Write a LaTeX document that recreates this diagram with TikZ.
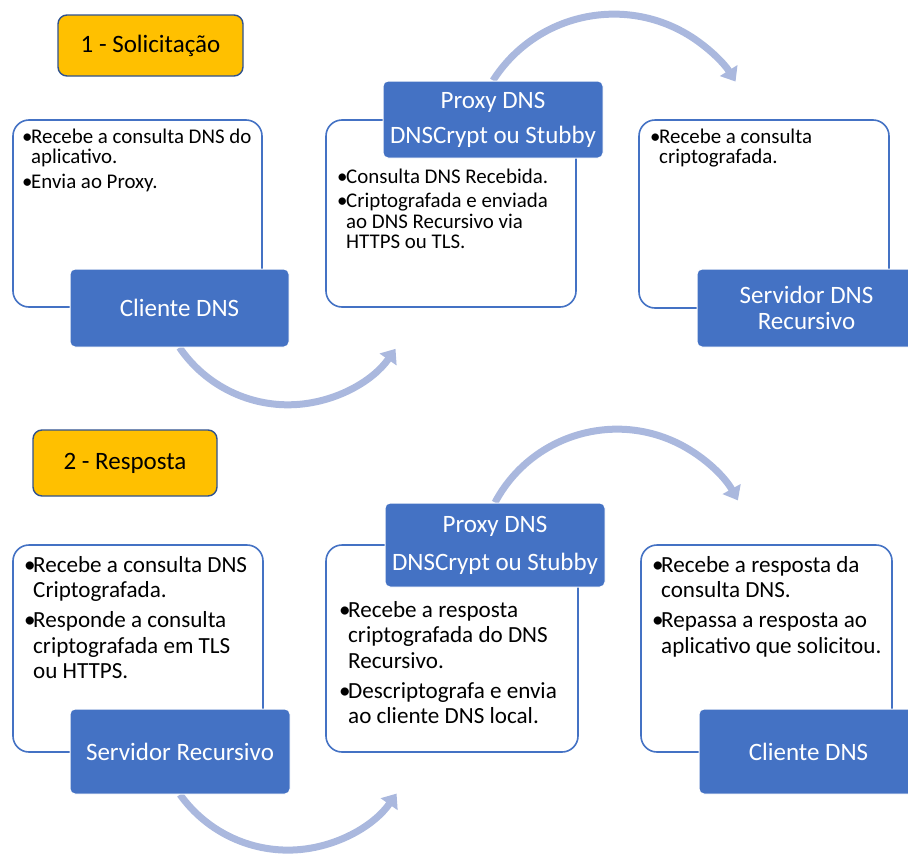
\documentclass[tikz,border=0pt]{standalone}
\usepackage{fontspec}
\setmainfont{Carlito}
\usetikzlibrary{arrows.meta}
\definecolor{mblue}{HTML}{4472C4}
\definecolor{myellow}{HTML}{FFC000}
\definecolor{mdark}{HTML}{2F528F}
\definecolor{marrow}{HTML}{AAB8DE}
\pgfdeclarelayer{bg}
\pgfsetlayers{bg,main}
\newcommand{\bitem}[1]{\noindent\hangindent=9pt\hangafter=1\makebox[9pt][l]{\textbullet}#1\par}
\tikzset{
  wbox/.style={draw=mblue, line width=1.6pt, rounded corners=16pt, fill=white, inner sep=0pt},
  bbox/.style={draw=white, line width=1pt, fill=mblue, rounded corners=5pt, text=white, align=center, inner sep=0pt},
  ybox/.style={draw=mdark, line width=1.4pt, fill=myellow, rounded corners=9pt, inner sep=0pt, font=\fontsize{25}{30}\selectfont},
  txtsm/.style={anchor=base west, inner sep=0pt, text width=250pt, align=flush left, font=\fontsize{20.9}{20.7}\selectfont, execute at begin node={\setlength{\parskip}{3.8pt}\setlength{\parindent}{0pt}}},
  txtlg/.style={anchor=base west, inner sep=0pt, text width=250pt, align=flush left, font=\fontsize{23.1}{25.5}\selectfont, execute at begin node={\setlength{\parskip}{4.5pt}\setlength{\parindent}{0pt}}},
  flow/.style={draw=marrow, line width=7pt, -{Triangle[width=20pt,length=13pt]}}
}
\begin{document}
\begin{tikzpicture}[x=1pt,y=-1pt]
\useasboundingbox (0,0) rectangle (908,857);
\clip (0,0) rectangle (908,857);

% ---- 1 - Solicitacao ----
\node[ybox, minimum width=185pt, minimum height=61pt] (y1) at (150.5,45.5) {1 - Solicitação};

\node[wbox, minimum width=249pt, minimum height=187pt] (A) at (137.5,213.5) {};
\node[txtsm] (tA) at (22,143) {\bitem{Recebe a consulta DNS do\newline aplicativo.}\bitem{Envia ao Proxy.}};
\node[bbox, minimum width=219pt, minimum height=78pt, font=\fontsize{25}{25.5}\selectfont] (cA) at (179.5,308) {Cliente DNS};

\node[wbox, minimum width=250pt, minimum height=187pt] (B) at (451,213.5) {};
\node[txtsm] (tB) at (337,183) {\bitem{Consulta DNS Recebida.}\bitem{Criptografada e enviada\newline ao DNS Recursivo via\newline HTTPS ou TLS.}};
\node[bbox, minimum width=220pt, minimum height=77pt, font=\fontsize{25}{35}\selectfont] (pA) at (493,119.5) {Proxy DNS\\DNSCrypt ou Stubby};

\node[wbox, minimum width=250pt, minimum height=188pt] (C) at (764,214) {};
\node[txtsm] (tC) at (650,143) {\bitem{Recebe a consulta\newline criptografada.}};
\node[bbox, minimum width=219pt, minimum height=78pt, font=\fontsize{25}{25.5}\selectfont] (sA) at (806.5,308) {Servidor DNS\\Recursivo};

% ---- 2 - Resposta ----
\node[ybox, minimum width=184pt, minimum height=66pt] (y2) at (125,463) {2 - Resposta};

\node[wbox, minimum width=250pt, minimum height=207pt] (D) at (138,648.5) {};
\node[txtlg] (tD) at (24,572) {\bitem{Recebe a consulta DNS\newline Criptografada.}\bitem{Responde a consulta\newline criptografada em TLS\newline ou HTTPS.}};
\node[bbox, minimum width=220pt, minimum height=85pt, font=\fontsize{25}{25.5}\selectfont] (sB) at (180,751.5) {Servidor Recursivo};

\node[wbox, minimum width=252pt, minimum height=207pt] (E) at (452,648.5) {};
\node[txtlg] (tE) at (339,617) {\bitem{Recebe a resposta\newline criptografada do DNS\newline Recursivo.}\bitem{Descriptografa e envia\newline ao cliente DNS local.}};
\node[bbox, minimum width=220pt, minimum height=84pt, font=\fontsize{25}{38}\selectfont] (pB) at (495,545) {Proxy DNS\\DNSCrypt ou Stubby};

\node[wbox, minimum width=251pt, minimum height=207pt] (F) at (766.5,648.5) {};
\node[txtlg] (tF) at (652,572) {\bitem{Recebe a resposta da\newline consulta DNS.}\bitem{Repassa a resposta ao\newline aplicativo que solicitou.}};
\node[bbox, minimum width=219pt, minimum height=85pt, font=\fontsize{25}{25.5}\selectfont] (cB) at (808.5,751.5) {Cliente DNS};

% ---- arrows ----
\begin{pgfonlayer}{bg}
\draw[flow] (pA.north) arc[start angle=-147.5, end angle=-32, radius=143.4];
\draw[flow] (cA.south) arc[start angle=145.7, end angle=35, radius=131.3];
\draw[flow] (pB.north) arc[start angle=-152, end angle=-29, radius=138.2];
\draw[flow] (sB.south) arc[start angle=144.5, end angle=35, radius=132.6];
\end{pgfonlayer}
\end{tikzpicture}
\end{document}
